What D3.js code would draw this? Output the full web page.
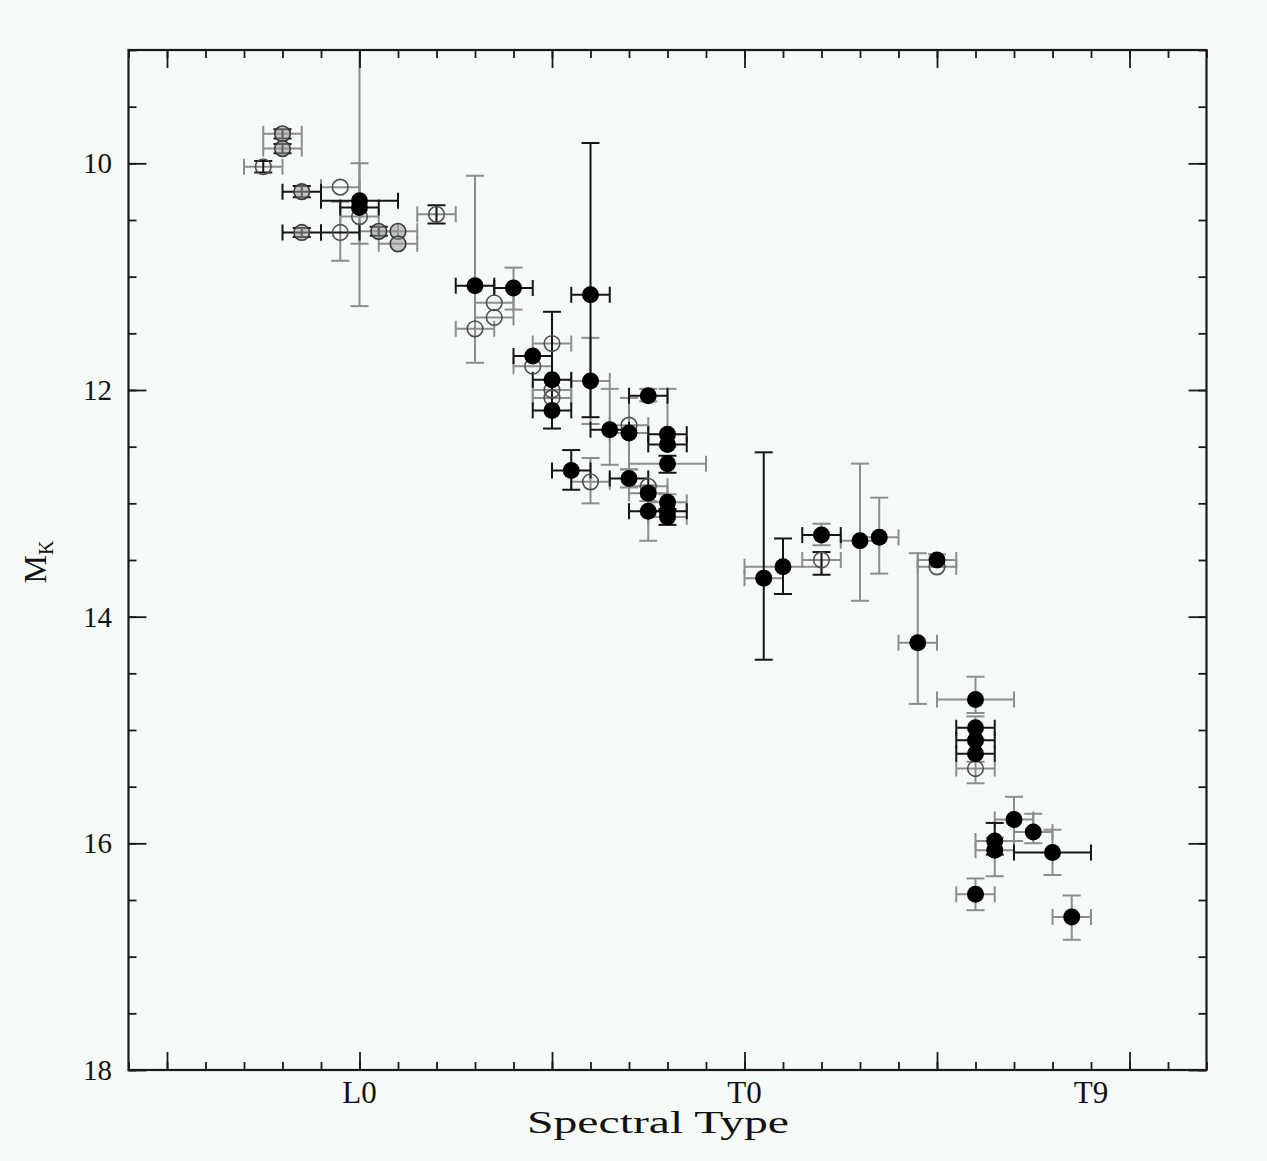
<!DOCTYPE html>
<html>
<head>
<meta charset="utf-8">
<script src="https://cdn.jsdelivr.net/npm/d3@7"></script>
<style>
  html, body { margin: 0; padding: 0; background: #f5faf7; }
  svg { display: block; }
  text { font-family: "Liberation Serif", "DejaVu Serif", serif; fill: #111; }
</style>
</head>
<body>
<svg id="chart" width="1267" height="1161"></svg>
<script>
// Spectral type index: L0 = 0, T0 = 10 (so M8 = -2, T9 = 19).
// Row layout: [type, M_K, type error, M_K low, M_K high, type-bar source, M_K-bar source]
// Source code "k" = dark bars, "g" = grey bars; null bounds = no vertical bar drawn.

const filledSample = [
  [0,    10.33, 1,   8.9,   11.26, "k", "g"],
  [0,    10.39, 0.5, 10.0,  10.71, "k", "g"],
  [3,    11.08, 0.5, 10.11, 11.76, "k", "g"],
  [4,    11.10, 0.5, 10.92, 11.29, "k", "g"],
  [4.5,  11.70, 0.5, null,  null,  "k", "g"],
  [5,    11.91, 0.5, 11.31, 12.34, "k", "k"],
  [5,    12.18, 0.5, null,  null,  "k", "k"],
  [6,    11.16, 0.5, 9.82,  12.24, "k", "k"],
  [6,    11.92, 0.5, 11.54, 12.30, "g", "g"],
  [6.5,  12.35, 0.5, 11.99, 12.66, "k", "g"],
  [7,    12.38, 0.5, 12.07, 12.70, "g", "g"],
  [7.5,  12.05, 0.5, 11.99, 12.10, "k", "g"],
  [8,    12.39, 0.5, 11.99, 12.50, "k", "g"],
  [8,    12.48, 0.5, null,  null,  "k", "g"],
  [8,    12.65, 1,   12.58, 12.73, "g", "k"],
  [5.5,  12.71, 0.5, 12.53, 12.88, "k", "k"],
  [7,    12.78, 0.5, 12.70, 12.86, "k", "g"],
  [7.5,  12.91, 0.5, 12.84, 12.98, "g", "g"],
  [7.5,  13.07, 0.5, 12.85, 13.33, "k", "g"],
  [8,    12.99, 0.5, 12.92, 13.06, "g", "g"],
  [8,    13.07, 0.5, null,  null,  "k", "g"],
  [8,    13.12, 0.5, 13.05, 13.19, "g", "k"],
  [10.5, 13.66, 0.5, 12.55, 14.38, "g", "k"],
  [11,   13.56, 1,   13.31, 13.80, "g", "k"],
  [12,   13.28, 0.5, 13.18, 13.37, "k", "g"],
  [13,   13.33, 0.5, 12.65, 13.86, "g", "g"],
  [13.5, 13.30, 0.5, 12.95, 13.62, "g", "g"],
  [15,   13.50, 0.5, 13.45, 13.56, "g", "g"],
  [14.5, 14.23, 0.5, 13.44, 14.77, "g", "g"],
  [16,   14.73, 1,   14.53, 14.85, "g", "g"],
  [16,   14.98, 0.5, 14.88, 15.08, "k", "g"],
  [16,   15.09, 0.5, null,  null,  "k", "g"],
  [16,   15.21, 0.5, null,  null,  "k", "g"],
  [17,   15.79, 0.5, 15.59, 15.98, "g", "g"],
  [17.5, 15.90, 0.5, 15.74, 16.00, "g", "g"],
  [16.5, 15.98, 0.5, 15.82, 16.10, "g", "k"],
  [16.5, 16.06, 0.5, 15.95, 16.29, "g", "g"],
  [18,   16.08, 1,   15.88, 16.28, "k", "g"],
  [16,   16.45, 0.5, 16.31, 16.59, "g", "g"],
  [18.5, 16.65, 0.5, 16.46, 16.85, "g", "g"]
];

const openSample = [
  [-2.5, 10.03, 0.5, 9.98,  10.08, "g", "k"],
  [-0.5, 10.21, 0.5, null,  null,  "g", "g"],
  [-0.5, 10.61, 0.5, 10.34, 10.86, "k", "g"],
  [0,    10.47, 0.5, null,  null,  "g", "g"],
  [2,    10.45, 0.5, 10.37, 10.53, "g", "k"],
  [3,    11.46, 0.5, null,  null,  "g", "g"],
  [3.5,  11.23, 0.5, null,  null,  "g", "g"],
  [3.5,  11.36, 0.5, null,  null,  "g", "g"],
  [5,    11.59, 0.5, null,  null,  "g", "g"],
  [4.5,  11.79, 0.5, null,  null,  "g", "g"],
  [5,    12.00, 0.5, null,  null,  "g", "g"],
  [5,    12.07, 0.5, null,  null,  "g", "g"],
  [6,    12.81, 0.5, 12.60, 13.00, "g", "g"],
  [7,    12.31, 0.5, null,  null,  "g", "g"],
  [7.5,  12.85, 0.5, null,  null,  "g", "g"],
  [12,   13.50, 0.5, 13.43, 13.63, "g", "k"],
  [15,   13.56, 0.5, null,  null,  "g", "g"],
  [16,   15.34, 0.5, 15.28, 15.47, "g", "g"]
];

const greySample = [
  [-2,   9.74,  0.5, 9.70,  9.78,  "g", "k"],
  [-2,   9.87,  0.5, 9.83,  9.91,  "g", "k"],
  [-1.5, 10.25, 0.5, 10.20, 10.30, "k", "k"],
  [-1.5, 10.61, 0.5, 10.57, 10.65, "k", "k"],
  [0.5,  10.60, 0.5, 10.56, 10.64, "g", "k"],
  [1,    10.60, 0.5, null,  null,  "g", "g"],
  [1,    10.71, 0.5, null,  null,  "g", "g"]
];

const xTickValues = [0, 10, 19];
const xTickLabels = ["L0", "T0", "T9"];
const yTickValues = [10, 12, 14, 16, 18];
const xTitle = "Spectral Type";

// ---- layout ----
const svg = d3.select("#chart");
const plotL = 128.5, plotR = 1206.5, plotT = 50, plotB = 1070;
const x = d3.scaleLinear().domain([-6, 22]).range([plotL, plotR]);
const y = d3.scaleLinear().domain([9, 18]).range([plotT, plotB]);

const barColor = { k: "#151515", g: "#8d8d8d" };
const capHalf = 8;

svg.append("rect").attr("width", 1267).attr("height", 1161).attr("fill", "#f5faf7");

svg.append("defs").append("clipPath").attr("id", "plotClip")
  .append("rect").attr("x", plotL).attr("y", plotT)
  .attr("width", plotR - plotL).attr("height", plotB - plotT);

const plot = svg.append("g").attr("clip-path", "url(#plotClip)");

const rows = d => d.map(r => ({
  t: r[0], m: r[1], te: r[2], lo: r[3], hi: r[4], xs: r[5], ys: r[6]
}));
const filled = rows(filledSample), open = rows(openSample), grey = rows(greySample);
const all = [...grey, ...open, ...filled];

// error bars: grey first, dark on top
function drawBars(data, src) {
  const g = plot.append("g").attr("stroke", barColor[src]).attr("stroke-width", 2)
    .attr("fill", "none");
  data.filter(d => d.xs === src && d.te).forEach(d => {
    const x0 = x(d.t - d.te), x1 = x(d.t + d.te), yy = y(d.m);
    g.append("line").attr("x1", x0).attr("x2", x1).attr("y1", yy).attr("y2", yy);
    g.append("line").attr("x1", x0).attr("x2", x0).attr("y1", yy - capHalf).attr("y2", yy + capHalf);
    g.append("line").attr("x1", x1).attr("x2", x1).attr("y1", yy - capHalf).attr("y2", yy + capHalf);
  });
  data.filter(d => d.ys === src && d.lo != null).forEach(d => {
    const xx = x(d.t), y0 = y(d.lo), y1 = y(d.hi);
    g.append("line").attr("x1", xx).attr("x2", xx).attr("y1", y0).attr("y2", y1);
    g.append("line").attr("x1", xx - capHalf - 1).attr("x2", xx + capHalf + 1).attr("y1", y0).attr("y2", y0);
    g.append("line").attr("x1", xx - capHalf - 1).attr("x2", xx + capHalf + 1).attr("y1", y1).attr("y2", y1);
  });
}
drawBars(all, "g");
drawBars(all, "k");

// markers
plot.append("g").selectAll("circle").data(grey).join("circle")
  .attr("cx", d => x(d.t)).attr("cy", d => y(d.m)).attr("r", 7.8)
  .attr("fill", "#9a9a9a").attr("fill-opacity", 0.55)
  .attr("stroke", "#3a3a3a").attr("stroke-width", 1.6);

plot.append("g").selectAll("circle").data(open).join("circle")
  .attr("cx", d => x(d.t)).attr("cy", d => y(d.m)).attr("r", 7.8)
  .attr("fill", "none").attr("stroke", "#505050").attr("stroke-width", 1.6);

plot.append("g").selectAll("circle").data(filled).join("circle")
  .attr("cx", d => x(d.t)).attr("cy", d => y(d.m)).attr("r", 8.5)
  .attr("fill", "#000");

// ---- axes (ticks pointing inward on all four sides) ----
const axisColor = "#1a1a1a";
function styleAxis(g) {
  g.select(".domain").remove();
  g.selectAll("line").attr("stroke", axisColor).attr("stroke-width", 1.8);
}
const xMinor = d3.range(-6, 23, 1), xMajor = d3.range(-5, 23, 5);
const yMinor = d3.range(9, 18.01, 0.5), yMajor = d3.range(10, 18.01, 2);

[[d3.axisBottom, plotB], [d3.axisTop, plotT]].forEach(([ax, pos]) => {
  svg.append("g").attr("transform", `translate(0,${pos})`)
    .call(ax(x).tickValues(xMinor).tickSize(-8).tickFormat("")).call(styleAxis);
  svg.append("g").attr("transform", `translate(0,${pos})`)
    .call(ax(x).tickValues(xMajor).tickSize(-18).tickFormat("")).call(styleAxis);
});
[[d3.axisLeft, plotL], [d3.axisRight, plotR]].forEach(([ax, pos]) => {
  svg.append("g").attr("transform", `translate(${pos},0)`)
    .call(ax(y).tickValues(yMinor).tickSize(-8).tickFormat("")).call(styleAxis);
  svg.append("g").attr("transform", `translate(${pos},0)`)
    .call(ax(y).tickValues(yMajor).tickSize(-18).tickFormat("")).call(styleAxis);
});

svg.append("rect").attr("x", plotL).attr("y", plotT)
  .attr("width", plotR - plotL).attr("height", plotB - plotT)
  .attr("fill", "none").attr("stroke", axisColor).attr("stroke-width", 2.2);

// tick labels
svg.append("g").selectAll("text").data(xTickValues).join("text")
  .attr("x", d => x(d)).attr("y", 1103)
  .attr("text-anchor", "middle").attr("font-size", 31)
  .text((d, i) => xTickLabels[i]);

svg.append("g").selectAll("text").data(yTickValues).join("text")
  .attr("x", 112).attr("y", d => y(d) + 10)
  .attr("text-anchor", "end").attr("font-size", 29)
  .text(d => d);

// axis titles
svg.append("text").attr("x", 658).attr("y", 1133)
  .attr("text-anchor", "middle").attr("font-size", 32)
  .attr("textLength", 262).attr("lengthAdjust", "spacingAndGlyphs")
  .text(xTitle);

const yt = svg.append("text").attr("transform", "translate(46,562) rotate(-90)")
  .attr("text-anchor", "middle").attr("font-size", 32);
yt.append("tspan").text("M");
yt.append("tspan").attr("font-size", 20).attr("dy", 7).text("K");
</script>
</body>
</html>
